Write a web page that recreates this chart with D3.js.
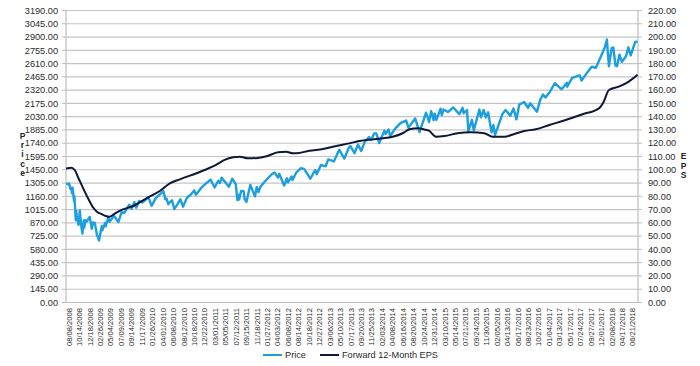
<!DOCTYPE html>
<html><head><meta charset="utf-8">
<script src="https://cdn.jsdelivr.net/npm/d3@7"></script>
<style>body{margin:0;background:#fff}svg{display:block}</style>
</head><body>
<svg id="chart" width="700" height="366"></svg>
<script>
// ---- Data ----
const categoryLabels = ["08/08/2008","10/14/2008","12/18/2008","02/26/2009","05/04/2009","07/09/2009","09/14/2009","11/17/2009","01/26/2010","04/01/2010","06/08/2010","08/12/2010","10/18/2010","12/22/2010","03/01/2011","05/05/2011","07/12/2011","09/15/2011","11/18/2011","01/27/2012","04/03/2012","06/08/2012","08/14/2012","10/18/2012","12/27/2012","03/06/2013","05/10/2013","07/17/2013","09/20/2013","11/25/2013","02/03/2014","04/08/2014","06/16/2014","08/20/2014","10/24/2014","12/31/2014","03/10/2015","05/14/2015","07/21/2015","09/24/2015","11/30/2015","02/05/2016","04/13/2016","06/17/2016","08/23/2016","10/27/2016","01/04/2017","03/13/2017","05/17/2017","07/24/2017","09/27/2017","12/01/2017","02/08/2018","04/17/2018","06/21/2018"];

const leftTicks = [0,145,290,435,580,725,870,1015,1160,1305,1450,1595,1740,1885,2030,2175,2320,2465,2610,2755,2900,3045,3190];
const rightTicks = [0,10,20,30,40,50,60,70,80,90,100,110,120,130,140,150,160,170,180,190,200,210,220];

const priceDates = ["2008-08-08","2008-08-15","2008-08-22","2008-08-28","2008-09-05","2008-09-12","2008-09-15","2008-09-19","2008-09-29","2008-10-01","2008-10-10","2008-10-13","2008-10-16","2008-10-27","2008-11-04","2008-11-12","2008-11-20","2008-11-28","2008-12-01","2008-12-10","2008-12-18","2009-01-06","2009-01-20","2009-01-28","2009-02-09","2009-02-23","2009-03-09","2009-03-26","2009-03-30","2009-04-17","2009-04-20","2009-05-08","2009-05-15","2009-06-12","2009-07-10","2009-07-31","2009-08-17","2009-09-18","2009-10-02","2009-10-19","2009-10-30","2009-11-17","2009-12-08","2010-01-19","2010-02-08","2010-03-05","2010-04-23","2010-05-06","2010-05-14","2010-05-25","2010-06-18","2010-07-02","2010-07-21","2010-08-09","2010-08-26","2010-09-20","2010-10-18","2010-11-05","2010-11-16","2010-12-22","2011-01-14","2011-02-18","2011-03-16","2011-04-08","2011-04-18","2011-04-29","2011-06-15","2011-07-07","2011-07-29","2011-08-08","2011-08-12","2011-08-19","2011-08-31","2011-09-16","2011-09-22","2011-10-03","2011-10-27","2011-11-25","2011-12-07","2011-12-19","2011-12-30","2012-01-27","2012-03-16","2012-04-02","2012-04-23","2012-05-01","2012-06-01","2012-06-19","2012-06-25","2012-07-19","2012-07-25","2012-08-17","2012-09-14","2012-10-05","2012-10-23","2012-11-15","2012-12-18","2012-12-28","2013-01-25","2013-02-25","2013-03-14","2013-04-18","2013-05-21","2013-06-24","2013-07-23","2013-08-02","2013-08-27","2013-09-18","2013-10-08","2013-10-31","2013-11-27","2013-12-12","2013-12-31","2014-01-15","2014-02-03","2014-03-07","2014-03-14","2014-04-02","2014-04-11","2014-05-13","2014-06-20","2014-07-24","2014-08-07","2014-09-18","2014-10-15","2014-11-26","2014-12-16","2014-12-29","2015-01-15","2015-01-22","2015-02-02","2015-03-02","2015-03-10","2015-03-20","2015-04-17","2015-05-21","2015-06-29","2015-07-20","2015-07-27","2015-08-17","2015-08-25","2015-09-16","2015-09-28","2015-11-03","2015-11-13","2015-12-01","2015-12-14","2015-12-29","2016-01-20","2016-02-01","2016-02-11","2016-03-31","2016-04-20","2016-05-19","2016-06-08","2016-06-27","2016-07-15","2016-08-15","2016-09-09","2016-09-22","2016-11-04","2016-11-25","2016-12-13","2016-12-30","2017-01-26","2017-03-01","2017-04-13","2017-05-16","2017-05-17","2017-06-19","2017-07-27","2017-08-07","2017-08-18","2017-09-20","2017-10-20","2017-11-15","2017-12-18","2018-01-12","2018-01-26","2018-02-08","2018-02-26","2018-03-09","2018-03-23","2018-04-02","2018-04-18","2018-05-03","2018-05-29","2018-06-12","2018-06-27","2018-07-25","2018-08-09"];
const priceValues = [1296,1298,1292,1300,1242,1252,1193,1255,1106,1161,899,1003,946,848,1005,852,752,896,816,899,885,935,805,874,870,743,677,833,788,870,832,929,882,946,879,987,980,1068,1025,1097,1036,1110,1092,1150,1056,1138,1217,1128,1136,1074,1117,1022,1069,1128,1047,1143,1184,1225,1178,1258,1293,1343,1256,1329,1305,1364,1265,1353,1292,1119,1178,1124,1219,1216,1129,1099,1285,1159,1261,1206,1258,1316,1404,1419,1366,1406,1278,1357,1313,1376,1338,1418,1466,1460,1413,1353,1446,1402,1503,1488,1563,1541,1669,1573,1692,1709,1631,1725,1655,1757,1807,1775,1848,1848,1742,1878,1841,1891,1816,1897,1962,1988,1910,2011,1862,2073,1972,2090,1992,2063,1995,2117,2044,2108,2081,2131,2058,2128,2068,2102,1868,1996,1881,2109,2023,2103,2022,2078,1859,1940,1829,2060,2102,2040,2119,2001,2162,2190,2128,2177,2085,2213,2271,2239,2297,2396,2329,2401,2357,2453,2475,2480,2425,2508,2575,2565,2690,2786,2873,2581,2780,2786,2588,2582,2708,2630,2690,2787,2700,2846,2850];

const epsDates = ["2008-08-08","2008-09-12","2008-10-03","2008-10-27","2008-11-25","2008-12-26","2009-02-02","2009-02-23","2009-03-23","2009-04-20","2009-05-15","2009-06-15","2009-07-20","2009-10-12","2010-01-05","2010-03-31","2010-06-04","2010-08-06","2010-09-07","2010-11-08","2011-01-10","2011-03-16","2011-05-18","2011-07-12","2011-08-23","2011-10-13","2011-12-14","2012-02-17","2012-04-23","2012-06-14","2012-07-26","2012-08-20","2012-11-08","2013-02-08","2013-05-02","2013-07-26","2013-09-27","2013-12-20","2014-02-25","2014-04-28","2014-07-02","2014-08-14","2014-10-06","2014-11-13","2014-12-15","2015-01-15","2015-01-30","2015-03-26","2015-06-17","2015-09-10","2015-12-04","2016-01-26","2016-04-11","2016-06-13","2016-08-15","2016-10-27","2017-01-23","2017-05-08","2017-08-24","2017-12-04","2018-01-05","2018-02-08","2018-04-14","2018-06-15","2018-08-09"];
const epsValues = [101.0,101.6,99.8,93.6,86.0,78.5,71.0,68.4,66.7,65.2,64.6,66.8,69.2,72.7,78.5,84.0,89.8,92.8,94.3,96.8,99.8,103.1,107.4,109.4,109.9,108.6,108.9,110.4,113.2,113.6,112.4,112.4,114.4,115.6,117.9,119.9,121.7,122.9,123.7,124.9,127.5,130.5,131.2,130.4,129.5,126.0,124.9,125.4,127.5,128.2,127.5,124.9,124.9,126.9,129.2,130.5,133.7,137.5,141.8,146.3,151.3,160.1,162.6,166.4,171.5];

const seriesNames = ["Price", "Forward 12-Month EPS"];
const seriesColors = ["#1b9fde", "#0f1836"];

// ---- Layout ----
const L = 66, R = 638, T = 10.5, B = 302.5, STEP = 10.44;
const svg = d3.select("#chart");
const parseMDY = d3.timeParse("%m/%d/%Y");
const parseISO = d3.timeParse("%Y-%m-%d");
const labelDates = categoryLabels.map(parseMDY);

const x = d3.scaleTime()
  .domain(labelDates)
  .range(labelDates.map((d, i) => L + i * STEP));
const yL = d3.scaleLinear().domain([0, 3190]).range([B, T]);
const yR = d3.scaleLinear().domain([0, 220]).range([B, T]);

const FONT = "'Liberation Sans', Arial, sans-serif";
const TXT = "#2a2a2a";

// gridlines
svg.append("g").selectAll("line").data(leftTicks).join("line")
  .attr("x1", L).attr("x2", R)
  .attr("y1", d => yL(d)).attr("y2", d => yL(d))
  .attr("stroke", "#c4c4c4").attr("stroke-width", 1.2);

// axis lines
svg.append("line").attr("x1", L).attr("x2", L).attr("y1", T).attr("y2", B).attr("stroke", "#bdbdbd").attr("stroke-width", 1.2);
svg.append("line").attr("x1", R).attr("x2", R).attr("y1", T).attr("y2", B).attr("stroke", "#bdbdbd").attr("stroke-width", 1.2);
svg.append("line").attr("x1", L).attr("x2", R).attr("y1", B).attr("y2", B).attr("stroke", "#bdbdbd").attr("stroke-width", 1.2);

// left axis
const gl = svg.append("g");
gl.selectAll("line").data(leftTicks).join("line")
  .attr("x1", L - 4).attr("x2", L).attr("y1", d => yL(d)).attr("y2", d => yL(d))
  .attr("stroke", "#bdbdbd");
gl.selectAll("text").data(leftTicks).join("text")
  .attr("x", 58).attr("y", d => yL(d)).attr("dy", "0.35em")
  .attr("text-anchor", "end").attr("font-family", FONT).attr("font-size", 9.2)
  .attr("fill", TXT).text(d => d3.format(".2f")(d));

// right axis
const gr = svg.append("g");
gr.selectAll("line").data(rightTicks).join("line")
  .attr("x1", R).attr("x2", R + 4).attr("y1", d => yR(d)).attr("y2", d => yR(d))
  .attr("stroke", "#bdbdbd");
gr.selectAll("text").data(rightTicks).join("text")
  .attr("x", 648).attr("y", d => yR(d)).attr("dy", "0.35em")
  .attr("text-anchor", "start").attr("font-family", FONT).attr("font-size", 9.2)
  .attr("fill", TXT).text(d => d3.format(".2f")(d));

// x labels
svg.append("g").selectAll("text").data(labelDates).join("text")
  .attr("transform", d => `translate(${x(d) + 3},308) rotate(-90)`)
  .attr("dy", "0.35em").attr("text-anchor", "end")
  .attr("font-family", FONT).attr("font-size", 7.6).attr("fill", TXT)
  .text((d, i) => categoryLabels[i]);

// vertical axis titles
function vtitle(str, xp, y0) {
  const t = svg.append("text").attr("font-family", FONT).attr("font-size", 8.5)
    .attr("font-weight", "bold").attr("fill", "#222").attr("text-anchor", "middle");
  str.split("").forEach((c, i) => t.append("tspan").attr("x", xp).attr("y", y0 + i * 9.2).attr("dy", "0.35em").text(c));
}
vtitle("Price", 22.5, 136);
vtitle("EPS", 683.5, 156.5);

// lines
svg.append("clipPath").attr("id", "clp").append("rect")
  .attr("x", L).attr("y", T - 5).attr("width", R - L).attr("height", B - T + 5);
const priceData = priceDates.map((d, i) => [parseISO(d), priceValues[i]]);
const epsData = epsDates.map((d, i) => [parseISO(d), epsValues[i]]);

svg.append("path").datum(priceData)
  .attr("clip-path", "url(#clp)")
  .attr("fill", "none").attr("stroke", seriesColors[0]).attr("stroke-width", 2.4)
  .attr("stroke-linejoin", "round")
  .attr("d", d3.line().x(d => x(d[0])).y(d => yL(d[1])));
svg.append("path").datum(epsData)
  .attr("clip-path", "url(#clp)")
  .attr("fill", "none").attr("stroke", seriesColors[1]).attr("stroke-width", 2)
  .attr("stroke-linejoin", "round")
  .attr("d", d3.line().curve(d3.curveMonotoneX).x(d => x(d[0])).y(d => yR(d[1])));

// legend
const lg = svg.append("g");
const legendX = [263, 320], legendTextX = [285, 342];
seriesNames.forEach((n, i) => {
  lg.append("line").attr("x1", legendX[i]).attr("x2", legendX[i] + 19)
    .attr("y1", 355).attr("y2", 355).attr("stroke", seriesColors[i]).attr("stroke-width", 2);
  lg.append("text").attr("x", legendTextX[i]).attr("y", 355).attr("dy", "0.35em")
    .attr("font-family", FONT).attr("font-size", 9.2).attr("fill", TXT).text(n);
});
</script>
</body></html>
